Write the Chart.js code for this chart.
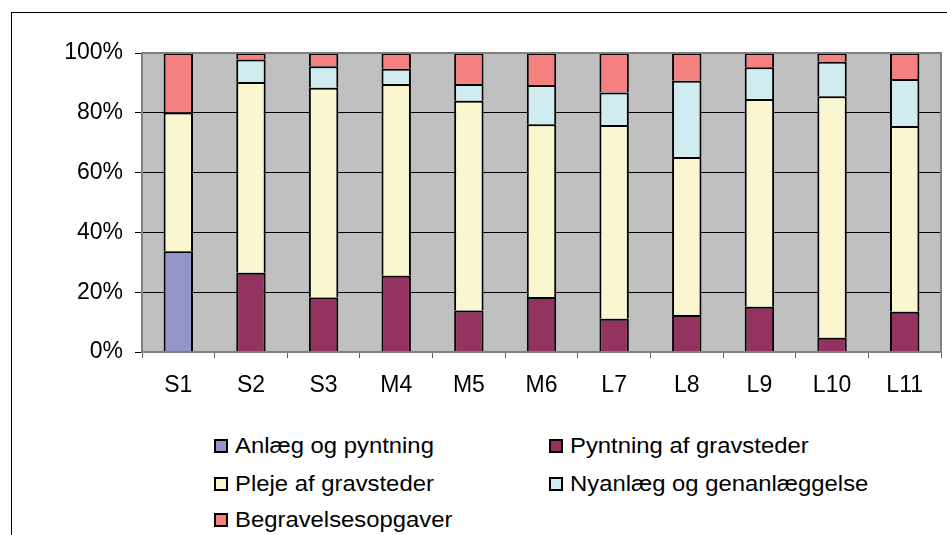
<!DOCTYPE html>
<html>
<head>
    <meta charset="utf-8">
    <title>Fordeling</title>
    <script src="https://cdn.jsdelivr.net/npm/chart.js"></script>
    <style>
        body { margin: 0; width: 947px; height: 535px; overflow: hidden; background: #fff; font-family: "Liberation Sans", Arial, sans-serif; }
        .frame { position: absolute; left: 11px; top: 12px; width: 1000px; height: 600px; border-left: 1px solid #000; border-top: 1px solid #000; }
        .wrap { position: absolute; left: 0; top: 0; width: 947px; height: 420px; }
        .item { position: absolute; display: flex; align-items: center; height: 26px; white-space: nowrap; font-size: 22.5px; color: #000; }
        .box { width: 10px; height: 10px; border: 2px solid #000; margin-right: 7px; flex: none; }
        .txt { display: inline-block; transform: scaleX(1.06); transform-origin: left center; }
    </style>
</head>
<body>
    <div class="frame"></div>
    <div class="wrap"><canvas id="chart" width="947" height="420"></canvas></div>
    <div id="legend"></div>

    <script>
        // categories and shares (in %)
        var categories = ['S1', 'S2', 'S3', 'M4', 'M5', 'M6', 'L7', 'L8', 'L9', 'L10', 'L11'];
        var anlaeg      = [33.7, null, null, null, null, null, null, null, null, null, null];
        var pyntning    = [null, 26.5, 18.2, 25.5, 13.9, 18.4, 11.1, 12.4, 15.1, 4.8, 13.5];
        var pleje       = [46.4, 63.8, 70.2, 64.1, 70.1, 57.8, 64.8, 52.8, 69.5, 80.7, 62.1];
        var nyanlaeg    = [null, 7.5, 7.2, 5.1, 5.6, 13.1, 10.9, 25.5, 10.6, 11.6, 15.7];
        var begravelse  = [19.9, 2.2, 4.4, 5.3, 10.4, 10.7, 13.2, 9.3, 4.8, 2.9, 8.7];
        var yTicks = [0, 20, 40, 60, 80, 100];

        var seriesNames = ['Anlæg og pyntning', 'Pyntning af gravsteder', 'Pleje af gravsteder', 'Nyanlæg og genanlæggelse', 'Begravelsesopgaver'];
        var seriesColors = ['#9494c8', '#943360', '#faf7d0', '#d0ecf0', '#f48080'];
        var seriesData = [anlaeg, pyntning, pleje, nyanlaeg, begravelse];

        var font = { family: '"Liberation Sans", Arial, sans-serif', size: 23 };

        // grey plot area with a grey frame, like the old spreadsheet charts
        var plotBg = {
            id: 'plotBg',
            beforeDraw: function(chart) {
                var a = chart.chartArea, ctx = chart.ctx;
                ctx.save();
                ctx.fillStyle = '#c0c0c0';
                ctx.fillRect(a.left, a.top, a.right - a.left, a.bottom - a.top);
                ctx.restore();
            },
            afterDraw: function(chart) {
                var a = chart.chartArea, ctx = chart.ctx;
                ctx.save();
                ctx.strokeStyle = '#808080';
                ctx.lineWidth = 2;
                ctx.strokeRect(a.left, a.top, a.right - a.left, a.bottom - a.top);
                ctx.restore();
            }
        };

        var datasets = seriesNames.map(function(name, i) {
            return {
                label: name,
                data: seriesData[i],
                backgroundColor: seriesColors[i],
                borderColor: '#000',
                borderWidth: 2,
                barPercentage: 0.405,
                categoryPercentage: 1
            };
        });

        var chart = new Chart(document.getElementById('chart'), {
            type: 'bar',
            data: { labels: categories, datasets: datasets },
            plugins: [plotBg],
            options: {
                responsive: false,
                animation: false,
                layout: { padding: { left: 0, top: 53, right: 6, bottom: 0 } },
                plugins: { legend: { display: false }, tooltip: { enabled: false } },
                scales: {
                    x: {
                        stacked: true,
                        grid: { offset: true, drawOnChartArea: false, color: '#606060', tickLength: 6 },
                        border: { color: '#808080', width: 2 },
                        ticks: { color: '#000', font: font, padding: 14 },
                        afterFit: function(s) { s.height = 68; }
                    },
                    y: {
                        stacked: true,
                        min: 0,
                        max: 100,
                        afterBuildTicks: function(s) { s.ticks = yTicks.map(function(v) { return { value: v }; }); },
                        grid: { color: '#000', lineWidth: 1, tickLength: 7 },
                        border: { color: '#808080', width: 2 },
                        ticks: { color: '#000', font: font, padding: 12, callback: function(v) { return v + '%'; } },
                        afterFit: function(s) { s.width = 142; }
                    }
                }
            }
        });

        // legend in two columns under the chart
        var legend = document.getElementById('legend');
        var colX = [214, 549];
        var rowY = [433, 471, 507];
        chart.data.datasets.forEach(function(ds, i) {
            var div = document.createElement('div');
            div.className = 'item';
            div.style.left = colX[i % 2] + 'px';
            div.style.top = rowY[Math.floor(i / 2)] + 'px';
            div.innerHTML = '<span class="box" style="background:' + ds.backgroundColor + '"></span><span class="txt">' + ds.label + '</span>';
            legend.appendChild(div);
        });
    </script>
</body>
</html>
